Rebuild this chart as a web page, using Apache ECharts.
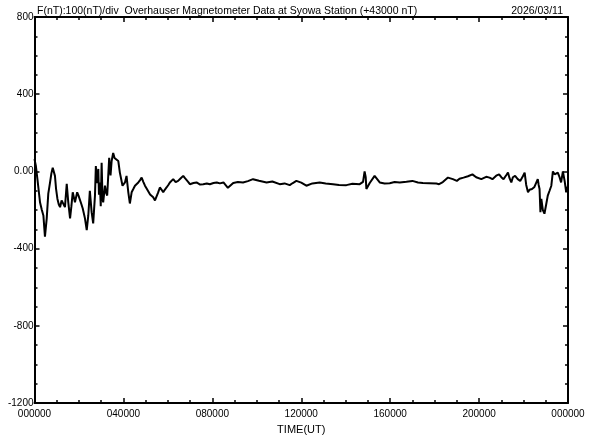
<!DOCTYPE html>
<html><head><meta charset="utf-8">
<script src="https://cdn.jsdelivr.net/npm/echarts@6/dist/echarts.min.js"></script>
<style>html,body{margin:0;padding:0;background:#fff}#c{width:592px;height:440px}</style>
</head><body><div id="c"></div>
<script>
const titleText = 'F(nT):100(nT)/div  Overhauser Magnetometer Data at Syowa Station (+43000 nT)';
const dateText = '2026/03/11';
const xTickLabels = ['000000','040000','080000','120000','160000','200000','000000'];
const yTickLabels = {'-1200':'-1200','-800':'-800','-400':'-400','0':'0.00','400':'400','800':'800'};
const xName = 'TIME(UT)';
const hours = [0,0.06,0.13,0.19,0.25,0.33,0.40,0.47,0.55,0.62,0.70,0.76,0.82,0.92,0.97,1.03,1.09,1.15,1.22,1.29,1.37,1.45,1.52,1.60,1.66,1.72,1.82,1.92,1.98,2.05,2.11,2.17,2.27,2.35,2.42,2.49,2.57,2.64,2.72,2.76,2.80,2.87,2.90,2.94,2.98,3.02,3.06,3.09,3.17,3.22,3.27,3.36,3.42,3.47,3.54,3.60,3.66,3.77,3.84,3.96,4.07,4.14,4.22,4.29,4.37,4.45,4.52,4.60,4.67,4.75,4.82,4.90,4.97,5.05,5.12,5.20,5.34,5.42,5.49,5.56,5.64,5.72,5.79,5.86,5.94,6.02,6.09,6.16,6.24,6.35,6.46,6.58,6.69,6.77,6.84,6.92,6.99,7.15,7.29,7.45,7.59,7.75,7.89,8.05,8.20,8.34,8.36,8.50,8.70,8.94,9.15,9.38,9.60,9.83,10.10,10.44,10.70,11.03,11.25,11.48,11.62,11.78,12.00,12.23,12.50,12.83,13.10,13.43,13.70,14.03,14.30,14.63,14.70,14.78,14.82,14.85,14.90,14.93,15.08,15.30,15.53,15.75,15.98,16.20,16.43,16.73,17.00,17.25,17.47,17.75,18.08,18.20,18.37,18.60,18.82,19.00,19.12,19.30,19.50,19.70,19.87,20.10,20.32,20.47,20.60,20.77,20.90,21.00,21.10,21.22,21.30,21.37,21.45,21.52,21.62,21.74,21.85,21.97,22.05,22.12,22.20,22.27,22.38,22.49,22.57,22.64,22.68,22.72,22.76,22.80,22.87,22.94,23.02,23.09,23.17,23.25,23.32,23.40,23.47,23.54,23.62,23.69,23.77,23.85,23.92,24.0];
const values = [64,30,-38,-100,-161,-200,-228,-338,-243,-115,-57,-10,19,-23,-90,-141,-170,-185,-150,-160,-185,-64,-160,-243,-180,-108,-160,-108,-125,-134,-170,-192,-243,-304,-228,-100,-211,-269,-125,28,-60,13,-120,-57,-180,45,-140,-160,-74,-110,-125,71,-20,54,96,70,79,54,-6,-74,-57,-23,-108,-166,-108,-90,-74,-65,-57,-45,-32,-55,-74,-90,-100,-120,-134,-150,-141,-110,-83,-95,-108,-95,-83,-70,-57,-50,-40,-55,-49,-35,-23,-35,-40,-55,-66,-60,-57,-68,-66,-62,-66,-60,-57,-62,-68,-57,-85,-60,-55,-57,-50,-40,-48,-57,-52,-66,-62,-71,-60,-49,-58,-74,-62,-57,-62,-66,-70,-71,-64,-66,-58,-54,-50,0,-30,-91,-60,-23,-57,-62,-61,-55,-57,-53,-49,-57,-60,-61,-63,-66,-55,-32,-40,-49,-38,-32,-25,-15,-30,-40,-28,-32,-40,-22,-15,-30,-40,-20,-6,-35,-57,-30,-23,-40,-49,-25,-6,-70,-108,-95,-91,-80,-74,-40,-70,-91,-211,-142,-200,-219,-170,-125,-100,-74,0,-15,-23,-6,-30,-57,0,-50,-108,-74];
const data = hours.map((h,i)=>[h, values[i]]);
const font = 'Liberation Sans';
const axisLine = {show:true, onZero:false, lineStyle:{color:'#000', width:2}};
const tick = {show:true, inside:true, length:5, lineStyle:{color:'#000', width:1.5}};
const minor = {show:true, splitNumber:4, length:3, lineStyle:{color:'#000', width:1.5}};
const chart = echarts.init(document.getElementById('c'));
chart.setOption({
  animation:false,
  backgroundColor:'#fff',
  title:[
    {text:titleText, left:32, top:1, textStyle:{fontFamily:font, fontSize:10.5, fontWeight:'normal', color:'#000'}},
    {text:dateText, right:24, top:1, textStyle:{fontFamily:font, fontSize:10.5, fontWeight:'normal', color:'#000'}}
  ],
  grid:{left:34.5, right:24, top:17, bottom:32, containLabel:false},
  xAxis:[
    {type:'value', min:0, max:24, interval:4, position:'bottom',
     axisLine:axisLine, axisTick:tick, minorTick:minor, splitLine:{show:false},
     axisLabel:{margin:6, fontFamily:font, fontSize:10, color:'#000', formatter:(v)=>xTickLabels[Math.round(v/4)]},
     name:xName, nameLocation:'middle', nameGap:20, nameTextStyle:{fontFamily:font, fontSize:11, color:'#000'}},
    {type:'value', min:0, max:24, interval:4, position:'top',
     axisLine:axisLine, axisTick:tick, minorTick:minor, splitLine:{show:false}, axisLabel:{show:false}}
  ],
  yAxis:[
    {type:'value', min:-1200, max:800, interval:400, position:'left',
     axisLine:axisLine, axisTick:tick, minorTick:minor, splitLine:{show:false},
     axisLabel:{margin:1, fontFamily:font, fontSize:10, color:'#000', formatter:(v)=>yTickLabels[String(v)]}},
    {type:'value', min:-1200, max:800, interval:400, position:'right',
     axisLine:axisLine, axisTick:tick, minorTick:minor, splitLine:{show:false}, axisLabel:{show:false}}
  ],
  series:[{type:'line', data:data, showSymbol:false, smooth:false,
    lineStyle:{color:'#000', width:2}, xAxisIndex:0, yAxisIndex:0}]
});
</script></body></html>
